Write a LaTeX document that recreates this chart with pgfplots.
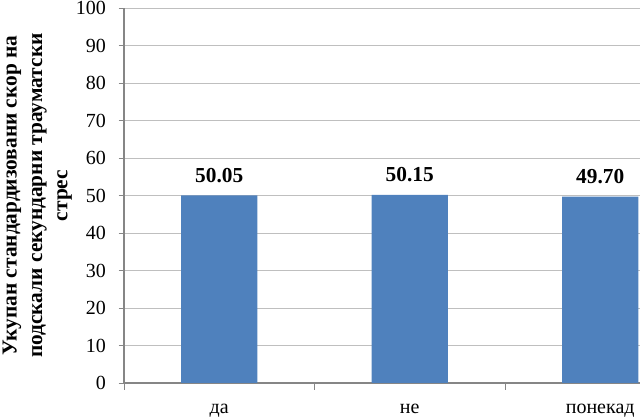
\documentclass[border=0pt]{standalone}
\usepackage{fontspec}
\setmainfont{Liberation Serif}
\usepackage{pgfplots}
\pgfplotsset{compat=1.18}
\definecolor{barblue}{HTML}{4F81BD}
\definecolor{axisgray}{HTML}{868686}
\definecolor{gridgray}{HTML}{BFBFBF}
\begin{document}
\begin{tikzpicture}[x=1pt,y=1pt]
\begin{axis}[
  at={(0,0)}, anchor=south west,
  scale only axis,
  width=387pt, height=281.25pt,
  xmin=-0.5, xmax=2.209,
  ymin=0, ymax=100,
  ytick={0,10,...,100},
  xtick={0,1,2},
  xticklabels={да, не, понекад},
  minor xtick={-0.5,0.5,1.5},
  major x tick style={draw=none},
  minor x tick style={axisgray},
  minor tick length=5pt,
  major tick length=4pt,
  tick align=outside,
  y tick style={axisgray},
  axis x line*=bottom,
  axis y line*=left,
  axis line style={axisgray, line width=0.8pt},
  ymajorgrids,
  grid style={gridgray, line width=0.7pt},
  /pgf/number format/assume math mode=true,
  ticklabel style={font=\fontsize{15}{18}\selectfont},
  xticklabel style={yshift=-8pt},
  yticklabel style={xshift=-6pt},
  ylabel={Укупан стандардизовани скор на\\подскали секундарни трауматски\\стрес},
  every axis y label/.style={at={(rel axis cs:0,0.5)}, xshift=-65pt, rotate=90,
    anchor=center, align=center, font=\fontsize{16}{19}\selectfont\bfseries},
  ybar, bar width=0.4,
  nodes near coords,
  nodes near coords style={font=\fontsize{16}{18}\selectfont\bfseries, yshift=6pt,
    /pgf/number format/.cd, fixed, fixed zerofill, precision=2},
  clip=false,
]
\addplot[fill=barblue, draw=none] coordinates {(0,50.05) (1,50.15) (2,49.70)};
\end{axis}
\pgfresetboundingbox
\useasboundingbox (-93pt,-25.5pt) rectangle (387pt,287.25pt);
\end{tikzpicture}
\end{document}
